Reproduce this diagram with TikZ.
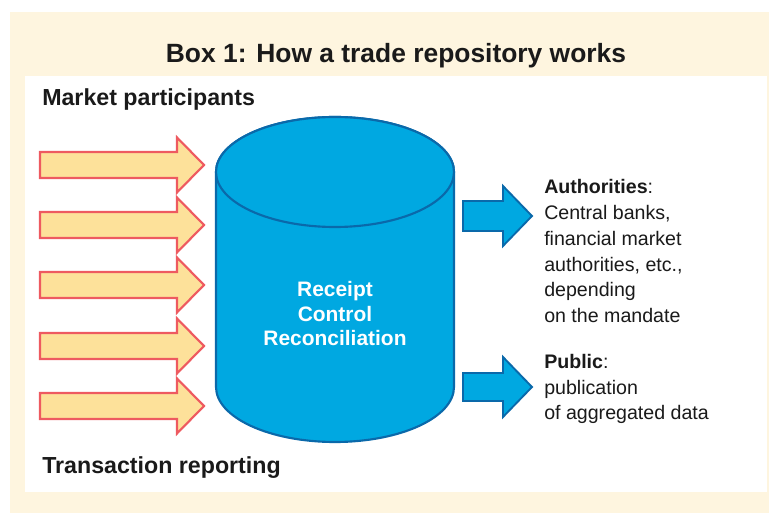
\documentclass[tikz,border=0pt]{standalone}
\usepackage{fontspec}
\setmainfont{Liberation Sans}
\usepackage{xcolor}
\usetikzlibrary{positioning}

\definecolor{boxbeige}{HTML}{FEF5DF}
\definecolor{inyellow}{HTML}{FDE19A}
\definecolor{inred}{HTML}{EE5A60}
\definecolor{repoblue}{HTML}{00A8E1}
\definecolor{repoedge}{HTML}{0A69AA}
\definecolor{inkgrey}{HTML}{1A1A1A}

\begin{document}
\begin{tikzpicture}[
    x=0.75pt, y=-0.75pt,
    every node/.style={inner sep=0pt, text=inkgrey},
    heading/.style={font=\bfseries\fontsize{17.4}{20}\selectfont, anchor=base west},
    detail/.style={font=\fontsize{14.7}{19.3}\selectfont, align=left, anchor=base west},
    inarrow/.style={fill=inyellow, draw=inred, line width=1.6pt, line join=miter},
    outarrow/.style={fill=repoblue, draw=repoedge, line width=1.4pt, line join=miter},
    repo/.style={fill=repoblue, draw=repoedge, line width=1.6pt}
]
\useasboundingbox (0,0) rectangle (769,513);

% Frame
\fill[boxbeige] (10,12) rectangle (769,513);
\fill[white] (25,76) rectangle (767,492);

\node[font=\bfseries\fontsize{19.8}{24}\selectfont, anchor=base] (title) at (396,63)
{Box 1: How a trade repository works};

\node[heading] (participants) at (42,106) {Market participants};
\node[heading] (reporting) at (42,474) {Transaction reporting};

% Incoming reports
\foreach \cy in {165,225,285,346,406}
    \draw[inarrow] (40,\cy-13) -- (177,\cy-13) -- (177,\cy-27.5) -- (204,\cy)
        -- (177,\cy+27.5) -- (177,\cy+13) -- (40,\cy+13) -- cycle;

% Repository
\draw[repo] (216,172) -- (216,387)
    arc[start angle=180, end angle=0, x radius=119, y radius=55]
    -- (454,172)
    arc[start angle=0, end angle=-180, x radius=119, y radius=55] -- cycle;
\draw[repo] (335,172) ellipse[x radius=119, y radius=55];

% base of a multi-line node sits on its last line
\node[font=\bfseries\fontsize{15.7}{18.4}\selectfont, text=white, align=center, anchor=base]
    (tasks) at (335,346) {Receipt\\Control\\Reconciliation};

% Outgoing data
\foreach \cy/\bh in {216/15,387/14}
    \draw[outarrow] (463,\cy-\bh) -- (503,\cy-\bh) -- (503,\cy-30) -- (532,\cy)
        -- (503,\cy+30) -- (503,\cy+\bh) -- (463,\cy+\bh) -- cycle;

\node[detail] (authorities) at (544,322.5)
{\textbf{Authorities}:\\Central banks,\\financial market\\authorities, etc.,\\depending\\on the mandate};

\node[detail] (public) at (544,420)
{\textbf{Public}:\\publication\\of aggregated data};

\end{tikzpicture}
\end{document}
